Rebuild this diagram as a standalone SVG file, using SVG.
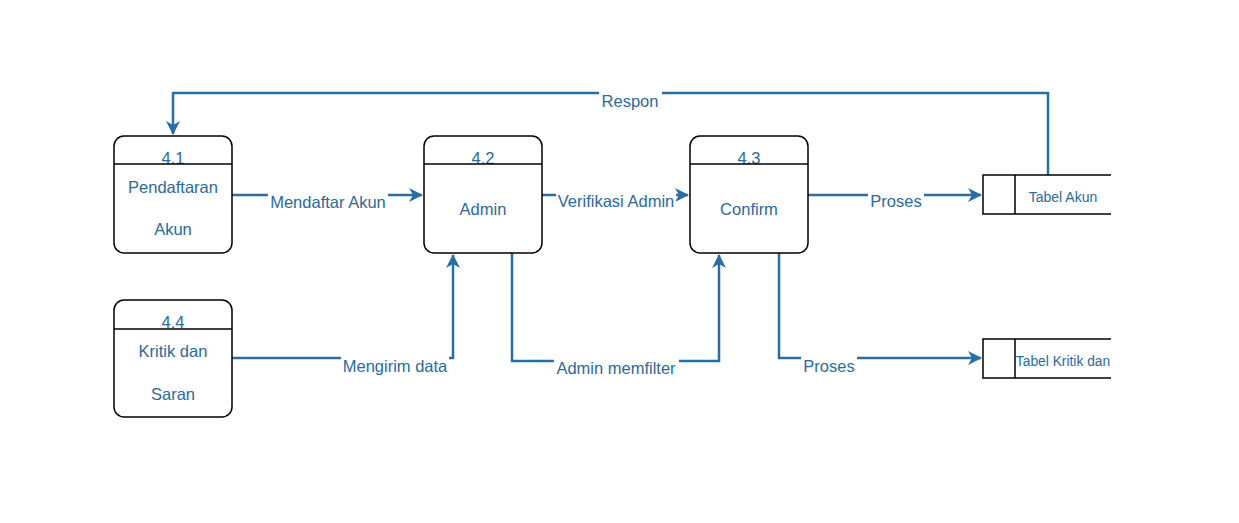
<svg xmlns="http://www.w3.org/2000/svg" width="1239" height="523" viewBox="0 0 1239 523">
<style>
.node{fill:#fff;stroke:#000;stroke-width:1.5}
.div{stroke:#000;stroke-width:1.5}
.t{font-family:"Liberation Sans",Arial,sans-serif;font-size:16.5px;fill:#2b6a9c;text-anchor:middle;dominant-baseline:central}
.ts{font-family:"Liberation Sans",Arial,sans-serif;font-size:14px;fill:#2b6a9c;text-anchor:middle;dominant-baseline:central}
.c{fill:none;stroke:#2b6ea3;stroke-width:2.5}
.bg{fill:#fff}
</style>
<defs>
<marker id="arr" viewBox="0 0 14 14" refX="13" refY="7" markerWidth="14" markerHeight="14" markerUnits="userSpaceOnUse" orient="auto">
<path d="M0,0 L14,7 L0,14 L4,7 Z" fill="#2b6ea3"/>
</marker>
</defs>
<rect width="1239" height="523" fill="#fff"/>
<g id="connectors">
<path class="c" d="M1048,175 V93 H173 V134" marker-end="url(#arr)"/>
<path class="c" d="M232,195 H422" marker-end="url(#arr)"/>
<path class="c" d="M542,195 H688" marker-end="url(#arr)"/>
<path class="c" d="M808,195 H981" marker-end="url(#arr)"/>
<path class="c" d="M232,358 H453 V255" marker-end="url(#arr)"/>
<path class="c" d="M512,253 V361 H719 V255" marker-end="url(#arr)"/>
<path class="c" d="M779,253 V358 H981" marker-end="url(#arr)"/>
<rect class="bg" x="599" y="91" width="63" height="20"/>
<text class="t" x="630" y="101">Respon</text>
<rect class="bg" x="268" y="192" width="120" height="20"/>
<text class="t" x="328" y="202">Mendaftar Akun</text>
<rect class="bg" x="556" y="191" width="120" height="20"/>
<text class="t" x="616" y="201">Verifikasi Admin</text>
<rect class="bg" x="868" y="191" width="56" height="20"/>
<text class="t" x="896" y="201">Proses</text>
<rect class="bg" x="341" y="356" width="108" height="20"/>
<text class="t" x="395" y="366">Mengirim data</text>
<rect class="bg" x="554" y="358" width="125" height="20"/>
<text class="t" x="616" y="368">Admin memfilter</text>
<rect class="bg" x="801" y="356" width="56" height="20"/>
<text class="t" x="829" y="366">Proses</text>
</g>
<g id="n41">
<rect class="node" x="114" y="136" width="118" height="117" rx="10"/>
<text class="t" x="173" y="157.5">4.1</text>
<line class="div" x1="114" y1="164" x2="232" y2="164"/>
<text class="t" x="173" y="187">Pendaftaran</text>
<text class="t" x="173" y="229">Akun</text>
</g>
<g id="n42">
<rect class="node" x="424" y="136" width="118" height="117" rx="10"/>
<text class="t" x="483" y="157.5">4.2</text>
<line class="div" x1="424" y1="164" x2="542" y2="164"/>
<text class="t" x="483" y="209">Admin</text>
</g>
<g id="n43">
<rect class="node" x="690" y="136" width="118" height="117" rx="10"/>
<text class="t" x="749" y="157.5">4.3</text>
<line class="div" x1="690" y1="164" x2="808" y2="164"/>
<text class="t" x="749" y="209">Confirm</text>
</g>
<g id="n44">
<rect class="node" x="114" y="300" width="118" height="117" rx="10"/>
<text class="t" x="173" y="321.5">4.4</text>
<line class="div" x1="114" y1="329" x2="232" y2="329"/>
<text class="t" x="173" y="351">Kritik dan</text>
<text class="t" x="173" y="394">Saran</text>
</g>
<g id="ds1">
<path class="div" fill="none" d="M1111,175 H983 V214 H1111 M1015,175 V214"/>
<text class="ts" x="1063" y="197">Tabel Akun</text>
</g>
<g id="ds2">
<path class="div" fill="none" d="M1111,339 H983 V378 H1111 M1015,339 V378"/>
<text class="ts" x="1063" y="361" style="font-size:13.8px">Tabel Kritik dan</text>
</g>
</svg>
